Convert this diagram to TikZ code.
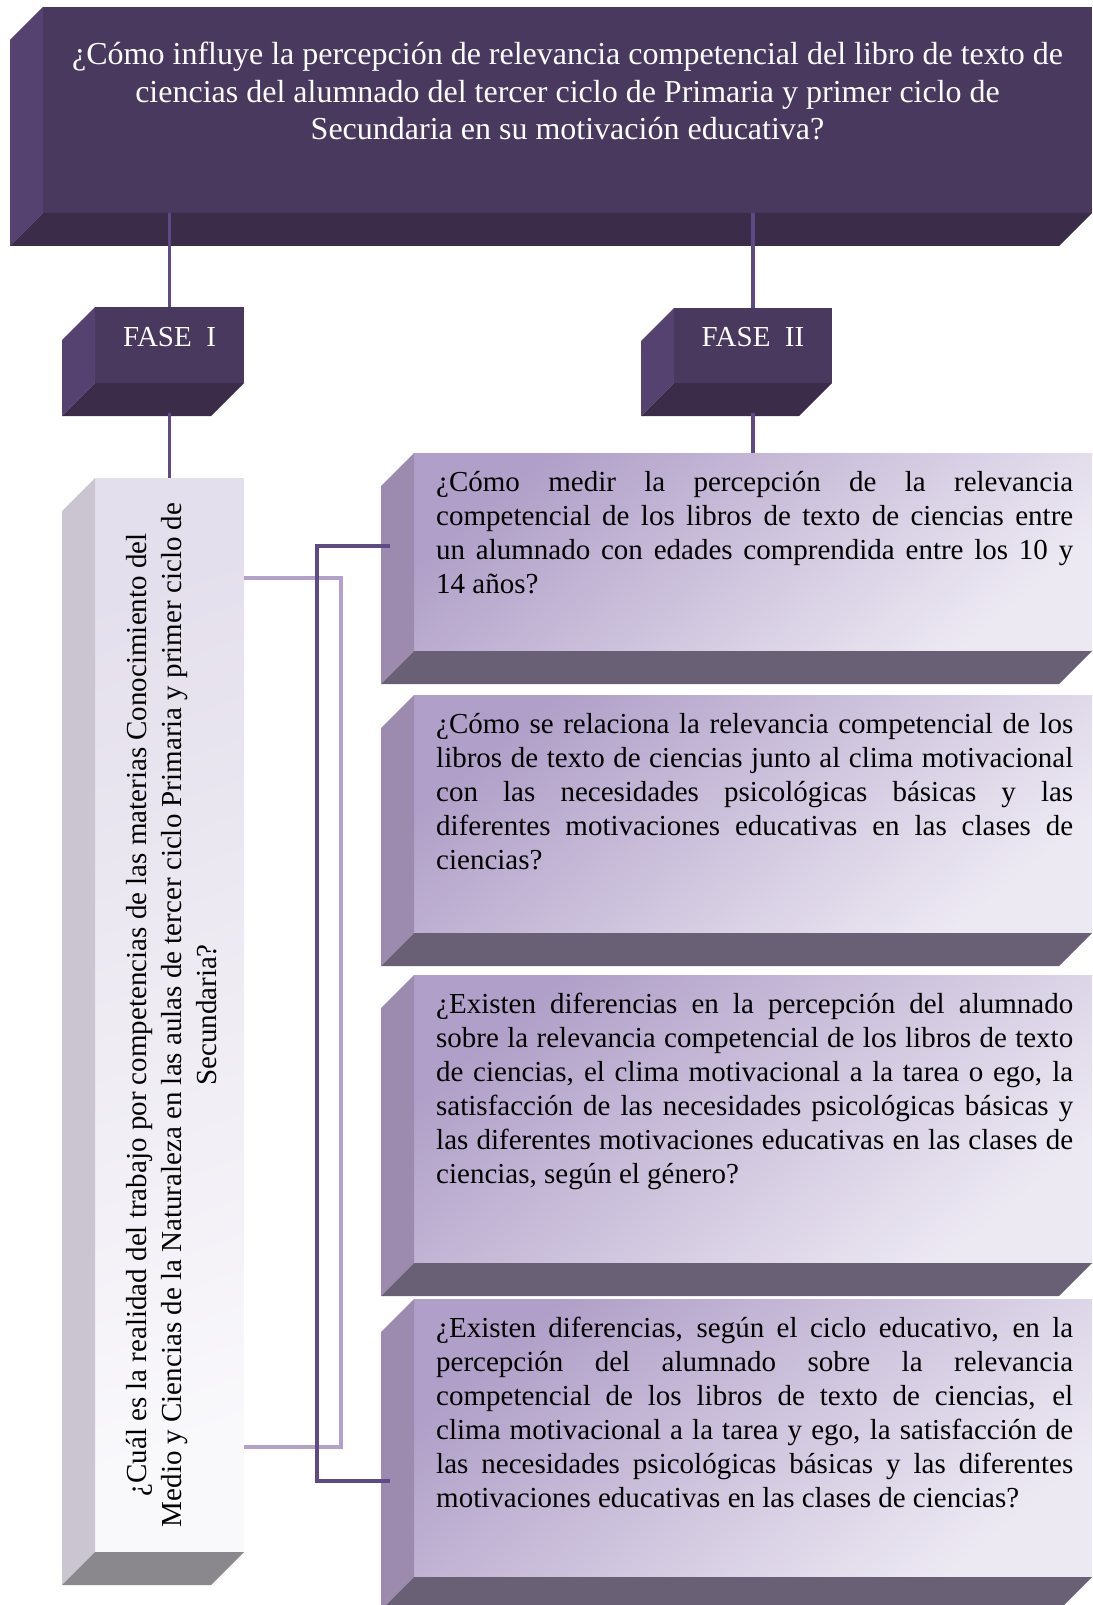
\documentclass[tikz,border=0pt]{standalone}
\usepackage{fontspec}
\setmainfont{Liberation Serif}
\usetikzlibrary{positioning}
\hyphenpenalty=10000
\exhyphenpenalty=10000

\definecolor{deeppurple}{HTML}{49395E}
\definecolor{deepside}{HTML}{554270}
\definecolor{deepbottom}{HTML}{3B2C4A}
\definecolor{lilactop}{HTML}{B09FC8}
\definecolor{lilacend}{HTML}{EDE9F3}
\definecolor{lilacside}{HTML}{9C8BAE}
\definecolor{lilacbottom}{HTML}{6A6076}
\definecolor{palestart}{HTML}{E4DFEC}
\definecolor{paleend}{HTML}{F9F8FB}
\definecolor{paleside}{HTML}{CAC5D1}
\definecolor{palebottom}{HTML}{8A878D}
\definecolor{darklink}{HTML}{5E4A85}
\definecolor{lightlink}{HTML}{B1A1CC}

\begin{document}
\begin{tikzpicture}[x=1pt, y=-1pt,
    face/.style={rectangle, anchor=north west, inner sep=0pt, outer sep=0pt},
    darkface/.style={face, fill=deeppurple},
    lilacface/.style={face, top color=lilactop, bottom color=lilacend, shading angle=40},
    paleface/.style={face, top color=palestart, bottom color=paleend, shading angle=20},
    link/.style={line width=3.5pt, color=darklink},
    paleline/.style={line width=3.5pt, color=lightlink},
    bigtext/.style={inner sep=0pt, align=center, text=white, font=\fontsize{32}{37.5}\selectfont},
    fasetext/.style={inner sep=0pt, text=white, font=\fontsize{29}{34}\selectfont},
    qtext/.style={inner sep=0pt, text width=637pt, align=justify, font=\fontsize{29}{34}\selectfont},
    sidetext/.style={inner sep=0pt, align=center, rotate=90, font=\fontsize{29}{35}\selectfont}]
    \useasboundingbox (0,0) rectangle (1092,1605);

    % Main question
    \node[darkface, minimum width=1049pt, minimum height=206pt] (top) at (43,7) {};

    % Phases
    \node[darkface, minimum width=149pt, minimum height=76pt] (faseI) at (95,307) {};
    \node[darkface, minimum width=158pt, minimum height=75pt] (faseII) at (674,308) {};

    % Phase I question
    \node[paleface, minimum width=149pt, minimum height=1074pt] (lbox) at (95,478) {};

    % Phase II questions
    \node[lilacface, minimum width=678pt, minimum height=198pt] (q1) at (414,453) {};
    \node[lilacface, minimum width=678pt, minimum height=238pt] (q2) at (414,695) {};
    \node[lilacface, minimum width=678pt, minimum height=288pt] (q3) at (414,975) {};
    \node[lilacface, minimum width=678pt, minimum height=278pt] (q4) at (414,1299) {};

    % Side and bottom faces
    \foreach \b/\s/\f in {top/deepside/deepbottom, faseI/deepside/deepbottom,
        faseII/deepside/deepbottom, lbox/paleside/palebottom,
        q1/lilacside/lilacbottom, q2/lilacside/lilacbottom,
        q3/lilacside/lilacbottom, q4/lilacside/lilacbottom} {
        \fill[fill=\s] (\b.north west) -- ++(-33,33) -- ([shift={(-33,33)}]\b.south west) -- (\b.south west) -- cycle;
        \fill[fill=\f] (\b.south west) -- (\b.south east) -- ++(-33,33) -- ([shift={(-33,33)}]\b.south west) -- cycle;
    }

    % Texts
    \node[bigtext, below=35pt of top.north] (toplabel) {¿Cómo influye la percepción de relevancia competencial del libro de texto de\\
        ciencias del alumnado del tercer ciclo de Primaria y primer ciclo de\\
        Secundaria en su motivación educativa?};
    \node[fasetext] (faseIlabel) at ([yshift=8pt]faseI.center) {FASE\ \ I};
    \node[fasetext] (faseIIlabel) at ([yshift=8pt]faseII.center) {FASE\ \ II};
    \node[sidetext] (lboxlabel) at ([xshift=2pt]lbox.center) {¿Cuál es la realidad del trabajo por competencias de las materias Conocimiento del\\
        Medio y Ciencias de la Naturaleza en las aulas de tercer ciclo Primaria y primer ciclo de\\
        Secundaria?};
    \node[qtext, below right=18pt and 22pt of q1.north west] (q1label) {¿Cómo medir la percepción de la relevancia \linebreak
        competencial de los libros de texto de ciencias entre \linebreak
        un alumnado con edades comprendida entre los 10 y \linebreak
        14 años?};
    \node[qtext, below right=18pt and 22pt of q2.north west] (q2label) {¿Cómo se relaciona la relevancia competencial de los \linebreak
        libros de texto de ciencias junto al clima motivacional \linebreak
        con las necesidades psicológicas básicas y las \linebreak
        diferentes motivaciones educativas en las clases de \linebreak
        ciencias?};
    \node[qtext, below right=18pt and 22pt of q3.north west] (q3label) {¿Existen diferencias en la percepción del alumnado \linebreak
        sobre la relevancia competencial de los libros de texto \linebreak
        de ciencias, el clima motivacional a la tarea o ego, la \linebreak
        satisfacción de las necesidades psicológicas básicas y \linebreak
        las diferentes motivaciones educativas en las clases de \linebreak
        ciencias, según el género?};
    \node[qtext, below right=18pt and 22pt of q4.north west] (q4label) {¿Existen diferencias, según el ciclo educativo, en la \linebreak
        percepción del alumnado sobre la relevancia \linebreak
        competencial de los libros de texto de ciencias, el \linebreak
        clima motivacional a la tarea y ego, la satisfacción de \linebreak
        las necesidades psicológicas básicas y las diferentes \linebreak
        motivaciones educativas en las clases de ciencias?};

    % Connectors
    \draw[link] (top.south -| faseI.north) -- (faseI.north);
    \draw[link] (top.south -| faseII.north) -- (faseII.north);
    \draw[link] ([yshift=-30pt]faseI.south) -- (lbox.north);
    \draw[link] ([yshift=-30pt]faseII.south) -- (q1.north -| faseII.south);
    \draw[paleline] ([yshift=-100pt]lbox.north east) -- ++(97,0) |- ([yshift=105pt]lbox.south east);
    \draw[link] ([xshift=-24pt, yshift=6pt]q1.west) -- ++(-73,0) |- ([xshift=-24pt, yshift=-43pt]q4.west);
\end{tikzpicture}
\end{document}
